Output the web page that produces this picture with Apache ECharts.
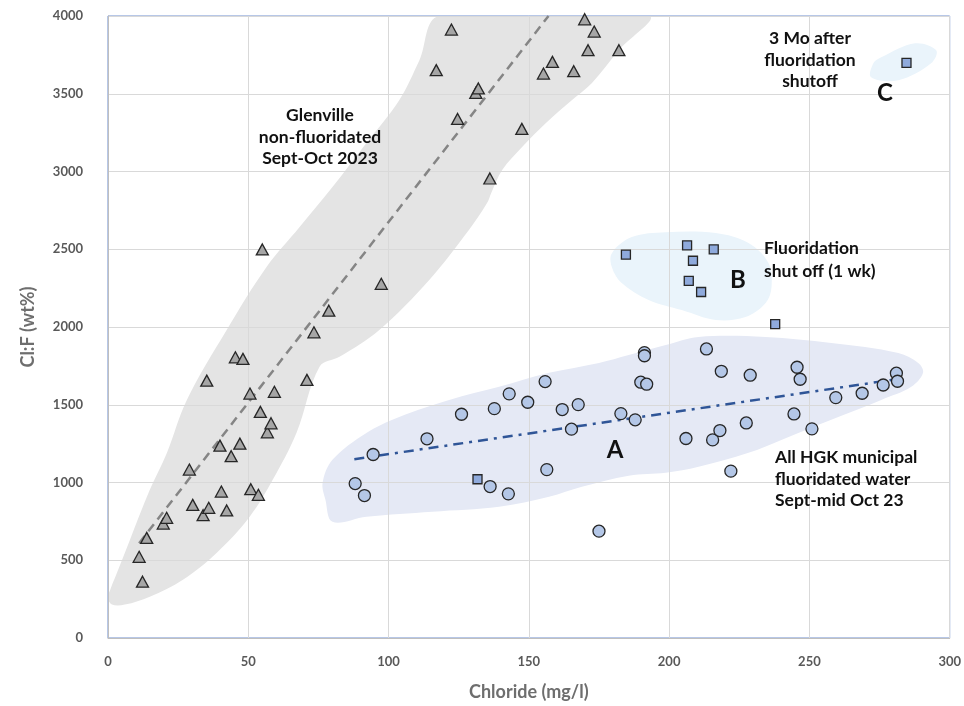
<!DOCTYPE html>
<html lang="en">
<head>
<meta charset="UTF-8">
<title>Cl:F vs Chloride</title>
<script src="https://cdn.jsdelivr.net/npm/echarts@6/dist/echarts.min.js"></script>
<style>
  body { margin: 0; background: #fff; }
  #chart { width: 964px; height: 706px; }
</style>
</head>
<body>
<div id="chart"></div>
<script>
// Glenville, non-fluoridated (triangles) [chloride, Cl:F]
var glenville = [
  [11.1, 522], [12.3, 362], [13.8, 644], [19.7, 736], [20.9, 773], [29.0, 1083], [30.2, 856],
  [33.9, 790], [35.9, 837], [35.2, 1655], [39.9, 1237], [40.4, 942], [42.3, 820], [43.9, 1169],
  [45.4, 1805], [47.0, 1250], [48.1, 1795], [50.6, 1572], [50.9, 957], [53.6, 921], [54.3, 1454],
  [55.0, 2499], [56.8, 1323], [58.1, 1381], [59.3, 1583], [70.9, 1660], [73.4, 1966], [78.7, 2105],
  [97.4, 2278], [117.0, 3652], [122.4, 3913], [124.6, 3338], [131.1, 3505], [132.0, 3534],
  [136.1, 2955], [147.5, 3274], [155.2, 3630], [158.4, 3705], [166.0, 3645], [169.9, 3979],
  [171.1, 3780], [173.3, 3900], [182.1, 3780]
];

// HGK municipal fluoridated water (circles)
var hgk = [
  [88.1, 993], [91.4, 916], [94.5, 1180], [113.7, 1281], [126.0, 1439], [136.2, 974], [137.7, 1475],
  [142.7, 927], [143.0, 1570], [149.6, 1516], [155.8, 1649], [156.4, 1083], [161.9, 1469],
  [165.2, 1343], [167.6, 1501], [175.0, 687], [182.8, 1443], [187.9, 1403], [189.9, 1645],
  [191.2, 1835], [191.2, 1815], [192.0, 1632], [206.0, 1283], [213.3, 1859], [215.5, 1274],
  [218.1, 1334], [218.6, 1715], [222.0, 1073], [227.5, 1383], [228.9, 1690], [244.5, 1441],
  [245.6, 1741], [246.7, 1664], [250.9, 1345], [259.4, 1546], [268.8, 1574], [276.3, 1627],
  [281.0, 1703], [281.4, 1651]
];

// fluoridation shut off samples (squares)
var shutoff = [
  [131.7, 1021], [184.6, 2465], [206.4, 2525], [208.5, 2426], [207.0, 2296], [211.4, 2225],
  [215.9, 2499], [237.8, 2019], [284.6, 3698]
];

// trend lines (end points)
var glenTrend = [[11.1, 610], [157.0, 4000]];
var hgkTrend = [[87.8, 1150], [281.0, 1664]];

// shaded envelopes, in data units
var glenBlob = [
  [0.0, 257], [1.4, 215], [6.0, 215], [14.9, 266], [26.7, 375], [38.8, 549], [50.5, 780],
  [58.7, 1017], [67.2, 1320], [75.4, 1744], [82.5, 1808], [96.7, 1981], [114.5, 2302],
  [128.7, 2625], [135.1, 2797], [136.6, 2862], [140.5, 3010], [147.6, 3158], [156.1, 3312],
  [165.4, 3460], [172.5, 3569], [182.1, 3781], [192.7, 4000], [118.1, 4000], [111.0, 3716],
  [103.8, 3459], [92.1, 3183], [80.0, 2900], [68.3, 2643], [56.5, 2386], [42.3, 1981],
  [28.1, 1531], [20.98, 1190], [14.9, 953], [7.8, 631], [3.2, 419], [1.0, 320]
];
var blobA = [
  [76.5, 998], [77.5, 889], [80.0, 747], [92.1, 780], [115.6, 812], [139.4, 844], [157.2, 908],
  [168.9, 972], [185.6, 1043], [198.8, 1062], [210.5, 1101], [228.3, 1191], [240.0, 1274],
  [257.8, 1403], [275.6, 1531], [286.3, 1615], [290.5, 1705], [288.8, 1769], [281.7, 1833],
  [257.8, 1897], [234.4, 1936], [210.5, 1936], [198.8, 1884], [185.6, 1820], [175.0, 1769],
  [157.2, 1705], [139.4, 1615], [121.6, 1531], [103.8, 1422], [92.1, 1319], [80.0, 1146]
];
var blobB = [
  [179.6, 2475], [186.7, 2578], [198.8, 2610], [216.6, 2604], [228.3, 2540], [235.4, 2411],
  [236.5, 2257], [234.4, 2154], [227.2, 2064], [216.6, 2045], [204.5, 2109], [192.7, 2174],
  [183.1, 2283], [179.6, 2385]
];
var blobC = [
  [272.0, 3606], [272.8, 3696], [275.6, 3734], [287.7, 3824], [295.2, 3779], [293.4, 3696],
  [281.7, 3587]
];

var xTicks = [0, 50, 100, 150, 200, 250, 300];
var yTicks = [0, 500, 1000, 1500, 2000, 2500, 3000, 3500, 4000];

var chart = echarts.init(document.getElementById('chart'));

function blob(points, color) {
  return {
    type: 'custom',
    z: 0,
    silent: true,
    clip: true,
    data: [0],
    renderItem: function (params, api) {
      var pts = points.map(function (p) { return api.coord(p); });
      return {
        type: 'polygon',
        shape: { points: pts, smooth: 0.35 },
        style: { fill: color, stroke: null }
      };
    }
  };
}

var font = 'Lato, "Open Sans", sans-serif';

// annotation text, x/y in pixels
function note(txt, x, y, align, size, lh) {
  return {
    type: 'text', x: x, y: y, z: 10, silent: true,
    style: {
      text: txt, fill: '#111', font: 'bold ' + (size || 17.5) + 'px ' + font,
      lineHeight: lh || 21.5, align: align || 'left', verticalAlign: 'middle'
    }
  };
}

var option = {
  animation: false,
  backgroundColor: '#fff',
  grid: {
    left: 108, right: 12, top: 16, bottom: 68,
    show: true, borderColor: '#6f8fcf', borderWidth: 1
  },
  xAxis: {
    type: 'value', min: 0, max: 300, interval: 50, z: 1,
    name: 'Chloride (mg/l)', nameLocation: 'middle', nameGap: 45,
    nameTextStyle: { color: '#6e6e6e', fontSize: 18, fontWeight: 'bold', fontFamily: font },
    axisLine: { lineStyle: { color: '#bfbfbf' } },
    axisTick: { show: false },
    splitLine: { lineStyle: { color: '#d9d9d9' } },
    axisLabel: {
      color: '#595959', fontSize: 13, fontWeight: 'bold', fontFamily: font, margin: 17,
      formatter: function (v) { return xTicks.indexOf(v) >= 0 ? String(v) : ''; }
    }
  },
  yAxis: {
    type: 'value', min: 0, max: 4000, interval: 500, z: 1,
    name: 'Cl:F (wt%)', nameLocation: 'middle', nameGap: 71,
    nameTextStyle: { color: '#6e6e6e', fontSize: 18, fontWeight: 'bold', fontFamily: font },
    axisLine: { show: true, lineStyle: { color: '#bfbfbf' } },
    axisTick: { show: false },
    splitLine: { lineStyle: { color: '#d9d9d9' } },
    axisLabel: {
      color: '#595959', fontSize: 13, fontWeight: 'bold', fontFamily: font, margin: 25,
      formatter: function (v) { return yTicks.indexOf(v) >= 0 ? String(v) : ''; }
    }
  },
  series: [
    blob(glenBlob, '#e4e4e4'),
    blob(blobA, '#e5e9f5'),
    blob(blobB, '#eaf4fb'),
    blob(blobC, '#eaf4fb'),
    {
      name: 'Glenville trend', type: 'line', data: glenTrend, symbol: 'none', z: 3,
      lineStyle: { color: '#858585', width: 2.5, type: [9, 6] }
    },
    {
      name: 'HGK trend', type: 'line', data: hgkTrend, symbol: 'none', z: 3,
      lineStyle: { color: '#2f5597', width: 2.5, type: [10, 6, 3, 6] }
    },
    {
      name: 'Glenville', type: 'scatter', data: glenville, symbol: 'triangle', symbolSize: [12, 11], z: 4,
      itemStyle: { color: '#a6a6a6', borderColor: '#262626', borderWidth: 1.3, opacity: 1 }
    },
    {
      name: 'HGK', type: 'scatter', data: hgk, symbol: 'circle', symbolSize: 12, z: 4,
      itemStyle: { color: '#b4c7e7', borderColor: '#262626', borderWidth: 1.3, opacity: 1 }
    },
    {
      name: 'Shut off', type: 'scatter', data: shutoff, symbol: 'rect', symbolSize: 9, z: 4,
      itemStyle: { color: '#8faadc', borderColor: '#262626', borderWidth: 1.3, opacity: 1 }
    }
  ],
  graphic: [
    note('Glenville\nnon-fluoridated\nSept-Oct 2023', 320, 137, 'center'),
    note('3 Mo after\nfluoridation\nshutoff', 810, 60, 'center'),
    note('Fluoridation\nshut off (1 wk)', 764, 260, 'left', 17.5, 22.5),
    note('All HGK municipal\nfluoridated water\nSept-mid Oct 23', 775, 479, 'left', 17.5, 21.7),
    note('C', 885, 93, 'center', 24),
    note('B', 738, 280, 'center', 24),
    note('A', 615, 450, 'center', 24)
  ]
};

chart.setOption(option);
</script>
</body>
</html>
